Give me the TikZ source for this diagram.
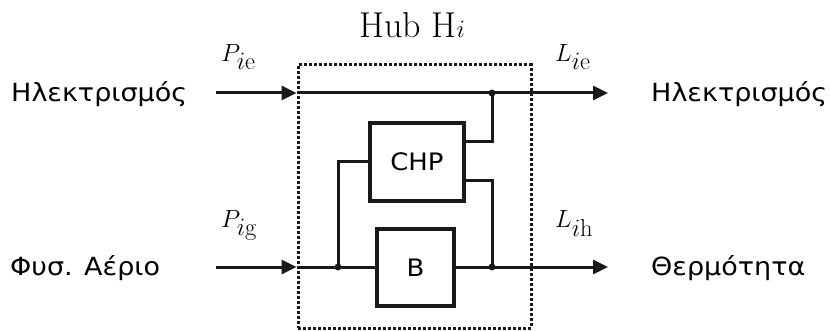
\documentclass[tikz,border=0pt]{standalone}
\usepackage{fontspec}
\newfontfamily\gr[FakeStretch=1.08]{DejaVu Sans}
\usetikzlibrary{arrows.meta}
\tikzset{
  wire/.style={line width=3pt, draw=black!90},
  arr/.style={wire, -{Triangle[length=15pt,width=14pt]}},
  blk/.style={draw=black!90, line width=3.5pt, inner sep=0pt},
  hubbox/.style={draw=black!90, line width=3pt, dash pattern=on 3pt off 2pt, inner sep=0pt},
  lbl/.style={font=\gr\fontsize{25}{30}\selectfont, inner sep=0pt},
  mlbl/.style={font=\fontsize{35}{40}\selectfont, inner sep=0pt},
  dot/.style={circle, fill=black!90, inner sep=0pt, minimum size=7pt},
}
\begin{document}
\begin{tikzpicture}[x=1pt,y=-1pt]
\useasboundingbox (0,0) rectangle (830,331);
% hub box
\node[hubbox, minimum width=233pt, minimum height=263pt] (hub) at (414.5,196.5) {};
\node[mlbl, font=\fontsize{36}{40}\selectfont, anchor=base] (title) at (412,38) {Hub H$i$};
% blocks
\node[blk, minimum width=94pt, minimum height=78pt, font=\gr\fontsize{24}{28}\selectfont] (chp) at (417,162) {CHP};
\node[blk, minimum width=77pt, minimum height=77pt, font=\gr\fontsize{24}{28}\selectfont] (b) at (415.5,267.5) {B};
% outer texts
\node[lbl, anchor=west] (inE) at (11,94) {Ηλεκτρισμός};
\node[lbl, anchor=west] (inG) at (10,268) {Φυσ. Αέριο};
\node[lbl, anchor=west] (outE) at (651,94) {Ηλεκτρισμός};
\node[lbl, anchor=west] (outH) at (651,268) {Θερμότητα};
% math labels
\node[mlbl, anchor=base west] (pie) at (221,62) {$P_{i\mathrm{e}}$};
\node[mlbl, anchor=base west] (pig) at (221,228) {$P_{i\mathrm{g}}$};
\node[mlbl, anchor=base west] (lie) at (555,62) {$L_{i\mathrm{e}}$};
\node[mlbl, anchor=base west] (lih) at (555,228) {$L_{i\mathrm{h}}$};
% coordinates
\coordinate (s1) at (216,93);
\coordinate (s2) at (216,267);
\coordinate (e1) at (608,93);
\coordinate (e2) at (608,267);
\coordinate (i1) at (hub.west |- s1);
\coordinate (i2) at (hub.west |- s2);
\coordinate (jt) at (492,93);
\coordinate (jl) at (338,267);
\coordinate (jr) at (492,267);
% wires
\draw[arr] (s1) -- (i1);
\draw[arr] (s2) -- (i2);
\draw[arr] (i1) -- (e1);
\draw[wire] (i2) -- (b.west |- i2);
\draw[arr] (b.east |- i2) -- (e2);
\draw[wire] (jl) |- (chp.west);
\draw[wire] ([yshift=20pt]chp.east) -| (jt);
\draw[wire] ([yshift=-19pt]chp.east) -| (jr);
\node[dot] at (jt) {};
\node[dot] at (jl) {};
\node[dot] at (jr) {};
\end{tikzpicture}
\end{document}
